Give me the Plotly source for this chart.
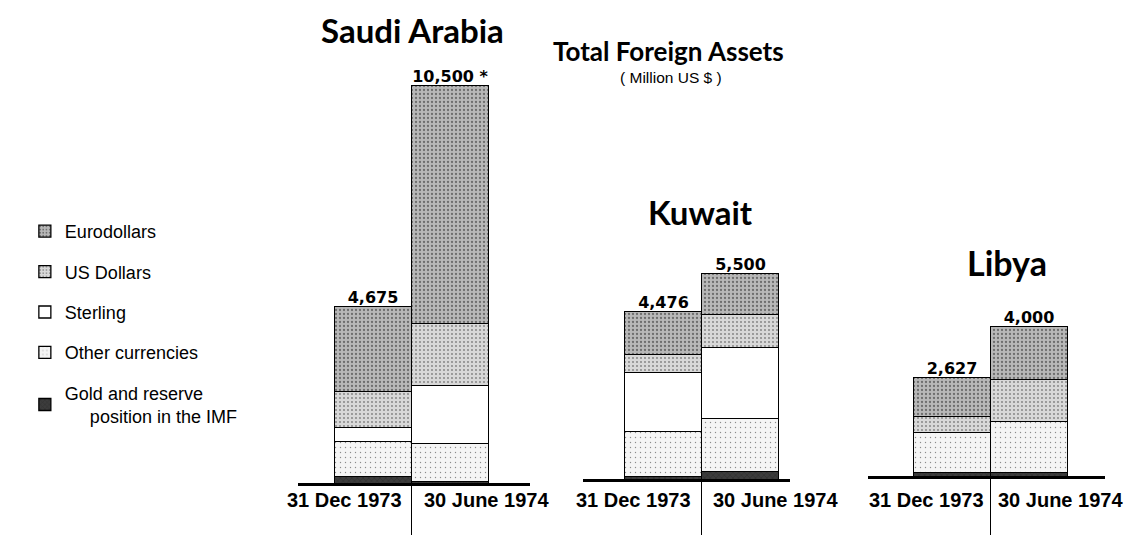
import plotly.graph_objects as go

# ---------------- data ----------------
periods = ["31 Dec 1973", "30 June 1974"]
countries = ["Saudi Arabia", "Kuwait", "Libya"]

# stacking order bottom -> top
categories = ["Gold and reserve position in the IMF", "Other currencies", "Sterling",
              "US Dollars", "Eurodollars"]
legend_labels = ["Gold and reserve<br>\u00a0\u00a0\u00a0\u00a0\u00a0position in the IMF",
                 "Other currencies", "Sterling", "US Dollars", "Eurodollars"]
legend_ranks = [5, 4, 3, 2, 1]

saudi_gold = [190, 50]
saudi_other = [925, 995]
saudi_sterling = [355, 1545]
saudi_usd = [950, 1625]
saudi_euro = [2255, 6285]
saudi_totals = [4675, 10500]
saudi_labels = ["4,675", "10,500 *"]

kuwait_gold = [80, 210]
kuwait_other = [1195, 1420]
kuwait_sterling = [1575, 1895]
kuwait_usd = [490, 870]
kuwait_euro = [1136, 1105]
kuwait_totals = [4476, 5500]
kuwait_labels = ["4,476", "5,500"]

libya_gold = [105, 105]
libya_other = [1060, 1360]
libya_sterling = [0, 0]
libya_usd = [430, 1120]
libya_euro = [1032, 1415]
libya_totals = [2627, 4000]
libya_labels = ["2,627", "4,000"]

series = {
    "Saudi Arabia": [saudi_gold, saudi_other, saudi_sterling, saudi_usd, saudi_euro],
    "Kuwait": [kuwait_gold, kuwait_other, kuwait_sterling, kuwait_usd, kuwait_euro],
    "Libya": [libya_gold, libya_other, libya_sterling, libya_usd, libya_euro],
}
totals = {"Saudi Arabia": saudi_totals, "Kuwait": kuwait_totals, "Libya": libya_totals}
total_labels = {"Saudi Arabia": saudi_labels, "Kuwait": kuwait_labels, "Libya": libya_labels}

# ---------------- styles ----------------
styles = [
    dict(bg="#3c3c3c", shape="x", solidity=0.3, size=4),    # gold
    dict(bg="#f5f5f5", shape=".", solidity=0.06, size=5),   # other
    dict(bg="#ffffff", shape="", solidity=0.0, size=5),     # sterling
    dict(bg="#d8d8d8", shape=".", solidity=0.16, size=4),   # usd
    dict(bg="#b8b8b8", shape=".", solidity=0.26, size=4),   # euro
]

W, H = 1130, 535
geo = {
    "Saudi Arabia": dict(dom=(298, 530), xr=(-0.974, 2.039), base=484, scale=0.0379),
    "Kuwait": dict(dom=(583, 790), xr=(-1.045, 1.643), base=480, scale=0.0375),
    "Libya": dict(dom=(868, 1105), xr=(-1.091, 1.987), base=477, scale=0.0376),
}
label_gaps = {"Saudi Arabia": (-8, 10), "Kuwait": (-9, 9), "Libya": (-5, 5)}

fig = go.Figure()
xpos = list(range(len(periods)))
annotations = []
label_font = dict(family="Liberation Sans", size=20, color="black", weight="bold")

for ci, country in enumerate(countries):
    ax = "" if ci == 0 else str(ci + 1)
    xref, yref = "x" + ax, "y" + ax
    for k, cat in enumerate(categories):
        st = styles[k]
        fig.add_trace(go.Bar(
            x=xpos, y=series[country][k], width=1.0,
            name=legend_labels[k], legendgroup=cat, legendrank=legend_ranks[k],
            showlegend=(ci == 0),
            marker=dict(color=st["bg"],
                        pattern=dict(shape=st["shape"], fgcolor="#222222",
                                     bgcolor=st["bg"], size=st["size"],
                                     solidity=st["solidity"]),
                        line=dict(color="black", width=1.3)),
            xaxis=xref, yaxis=yref, hoverinfo="skip",
        ))
    fig.add_trace(go.Scatter(
        x=xpos, y=totals[country], text=total_labels[country], mode="text",
        textposition="top center", showlegend=False, cliponaxis=False,
        textfont=dict(family="DejaVu Sans", size=16, color="black", weight="bold"),
        xaxis=xref, yaxis=yref, hoverinfo="skip",
    ))
    g = geo[country]
    d0, d1 = g["dom"][0] / W, g["dom"][1] / W
    b, s = g["base"], g["scale"]
    fig.layout["xaxis" + ax] = dict(
        domain=[d0, d1], range=list(g["xr"]), anchor=yref,
        showgrid=False, zeroline=False, showline=False, showticklabels=False,
        tickmode="array", tickvals=[0.5], ticks="inside", ticklen=H - b,
        tickwidth=1.2, tickcolor="black",
    )
    fig.layout["yaxis" + ax] = dict(
        domain=[0, 1], range=[-(H - b) / s, b / s], anchor=xref,
        showgrid=False, showticklabels=False, showline=False, ticks="",
        zeroline=True, zerolinecolor="black", zerolinewidth=3,
    )
    gl, gr = label_gaps[country]
    annotations.append(dict(x=0.5, y=1 - 500 / H, xref=xref, yref="paper",
                            text=periods[0], showarrow=False, xanchor="right",
                            xshift=gl, yanchor="middle", font=label_font))
    annotations.append(dict(x=0.5, y=1 - 500 / H, xref=xref, yref="paper",
                            text=periods[1], showarrow=False, xanchor="left",
                            xshift=gr, yanchor="middle", font=label_font))

title_font = "Lato"
titles = [
    dict(x=412 / W, y=1 - 30 / H, text="Saudi Arabia", font=dict(family=title_font, size=33, weight="bold")),
    dict(x=668 / W, y=1 - 51 / H, text="Total Foreign Assets", font=dict(family=title_font, size=26, weight="bold")),
    dict(x=671 / W, y=1 - 78 / H, text="( Million US $ )", font=dict(family="Liberation Sans", size=15.5)),
    dict(x=700 / W, y=1 - 212 / H, text="Kuwait", font=dict(family=title_font, size=33, weight="bold")),
    dict(x=1007 / W, y=1 - 262 / H, text="Libya", font=dict(family=title_font, size=34, weight="bold")),
]
for a in titles:
    a.update(xref="paper", yref="paper", showarrow=False, xanchor="center", yanchor="middle")
    a["font"]["color"] = "black"
annotations += titles

fig.update_layout(
    width=W, height=H, margin=dict(l=0, r=0, t=0, b=0),
    paper_bgcolor="white", plot_bgcolor="white",
    barmode="stack", bargap=0,
    annotations=annotations,
    showlegend=True,
    legend=dict(x=0.022, y=1 - 213 / H, xanchor="left", yanchor="top",
                traceorder="grouped", tracegroupgap=14,
                font=dict(family="Liberation Sans", size=18, color="black"),
                bgcolor="rgba(0,0,0,0)", itemclick=False, itemdoubleclick=False),
)

fig.write_html("out.html", post_script="document.body.style.margin='0px';",
               config={"displayModeBar": False})
